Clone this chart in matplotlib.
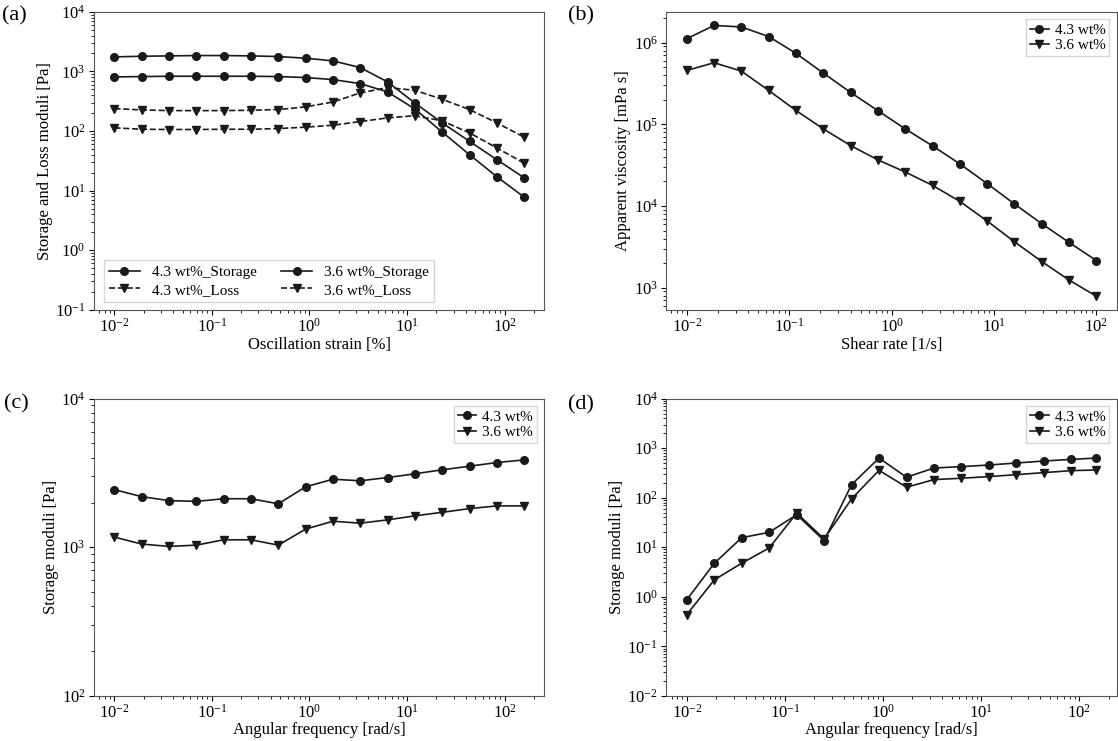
import matplotlib
matplotlib.use("Agg")
import matplotlib.pyplot as plt
import numpy as np

plt.rcParams['font.family'] = ['Liberation Serif', 'DejaVu Serif']
plt.rcParams['mathtext.fontset'] = 'stix'
plt.rcParams['font.size'] = 12
plt.rcParams['axes.labelpad'] = 1.5
plt.rcParams['xtick.major.pad'] = 2.0
plt.rcParams['ytick.major.pad'] = 2.5

# (a) amplitude sweep
strain = [0.01, 0.0191, 0.0363, 0.0692, 0.132, 0.251, 0.479, 0.912,
          1.74, 3.31, 6.31, 12.0, 22.9, 43.7, 83.2, 158]
g_store_43 = [1754, 1799, 1823, 1848, 1848, 1823, 1778, 1667,
              1504, 1161, 667, 296, 137, 67, 33, 16.5]
g_loss_43 = [238, 226, 220, 220, 220, 223, 229, 254,
             307, 436, 535, 483, 341, 229, 137, 79]
g_store_36 = [809, 820, 830, 830, 830, 830, 820, 789,
              730, 625, 453, 235, 96, 40, 17.1, 7.8]
g_loss_36 = [113, 107, 106, 106, 107, 107, 110, 116,
             125, 144, 166, 181, 148, 93, 52, 29]

# (b) flow curve
shear = np.logspace(-2, 2, 16)
visc_43 = [1.12e6, 1.63e6, 1.56e6, 1.19e6, 7.4e5, 4.25e5, 2.46e5, 1.47e5,
           8.8e4, 5.45e4, 3.28e4, 1.88e4, 1.06e4, 6.07e3, 3.58e3, 2.15e3]
visc_36 = [4.58e5, 5.69e5, 4.49e5, 2.60e5, 1.48e5, 8.8e4, 5.5e4, 3.67e4,
           2.61e4, 1.79e4, 1.14e4, 6.55e3, 3.65e3, 2.09e3, 1.24e3, 787]

# (c) / (d) frequency sweep
freq = [0.01, 0.0191, 0.0363, 0.0692, 0.132, 0.251, 0.479, 0.912,
        1.74, 3.31, 6.31, 12.0, 22.9, 43.7, 83.2, 158]
gc_43 = [2440, 2190, 2060, 2035, 2120, 2120, 1960, 2550,
         2870, 2800, 2945, 3120, 3320, 3510, 3715, 3870]
gc_36 = [1170, 1050, 1013, 1033, 1122, 1122, 1033, 1324,
         1496, 1452, 1528, 1626, 1718, 1820, 1897, 1897]
freq_d = [0.01, 0.0191, 0.0363, 0.0692, 0.132, 0.251, 0.479, 0.912,
          1.74, 3.31, 6.31, 12.0, 22.9, 43.7, 83.2, 150]
gd_43 = [0.873, 4.76, 15.6, 20.0, 45.3, 13.6, 184, 632,
         259, 398, 424, 457, 502, 551, 594, 632]
gd_36 = [0.436, 2.20, 4.76, 9.68, 48.9, 14.7, 94.9, 357,
         163, 232, 247, 267, 292, 321, 352, 363]

col = '#1a1a1a'
kw = dict(color=col, lw=1.2, ms=5.5)

fig = plt.figure(figsize=(11.18, 7.41), dpi=100)
ax_a = fig.add_axes([0.084, 0.582, 0.403, 0.402])
ax_b = fig.add_axes([0.596, 0.582, 0.403, 0.402])
ax_c = fig.add_axes([0.084, 0.061, 0.403, 0.401])
ax_d = fig.add_axes([0.596, 0.061, 0.403, 0.401])

ax_a.plot(strain, g_store_43, 'o-', label='4.3 wt%_Storage', **kw)
ax_a.plot(strain, g_loss_43, 'v--', label='4.3 wt%_Loss', **kw)
ax_a.plot(strain, g_store_36, 'o-', label='3.6 wt%_Storage', **kw)
ax_a.plot(strain, g_loss_36, 'v--', label='3.6 wt%_Loss', **kw)
ax_a.set_ylim(1e-1, 1e4)
ax_a.set_xlabel('Oscillation strain [%]')
ax_a.set_ylabel('Storage and Loss moduli [Pa]')
ax_a.legend(loc='lower left', ncol=2, fontsize=11, fancybox=False,
            edgecolor='#cccccc', columnspacing=1.6, labelspacing=0.25,
            borderpad=0.35, bbox_to_anchor=(0.005, 0.0))

ax_b.plot(shear, visc_43, 'o-', label='4.3 wt%', **kw)
ax_b.plot(shear, visc_36, 'v-', label='3.6 wt%', **kw)
ax_b.set_xlabel('Shear rate [1/s]')
ax_b.set_ylabel('Apparent viscosity [mPa s]')

ax_c.plot(freq, gc_43, 'o-', label='4.3 wt%', **kw)
ax_c.plot(freq, gc_36, 'v-', label='3.6 wt%', **kw)
ax_c.set_ylim(1e2, 1e4)
ax_c.set_xlabel('Angular frequency [rad/s]', labelpad=0.5)
ax_c.set_ylabel('Storage moduli [Pa]')

ax_d.plot(freq_d, gd_43, 'o-', label='4.3 wt%', **kw)
ax_d.plot(freq_d, gd_36, 'v-', label='3.6 wt%', **kw)
ax_d.set_ylim(1e-2, 1e4)
ax_d.set_xlabel('Angular frequency [rad/s]', labelpad=0.5)
ax_d.set_ylabel('Storage moduli [Pa]')

for ax in (ax_b, ax_c, ax_d):
    ax.legend(loc='upper right', fontsize=11, fancybox=False,
              edgecolor='#cccccc', handlelength=1.2, handletextpad=0.4,
              borderpad=0.25, labelspacing=0.1)

for ax in (ax_a, ax_b, ax_c, ax_d):
    ax.set_xscale('log')
    ax.set_yscale('log')
    for s in ax.spines.values():
        s.set_color('#555555')

fig.text(0.002, 0.978, '(a)', fontsize=16, va='center')
fig.text(0.508, 0.978, '(b)', fontsize=16, va='center')
fig.text(0.004, 0.455, '(c)', fontsize=16, va='center')
fig.text(0.508, 0.453, '(d)', fontsize=16, va='center')

fig.savefig('out.png', dpi=100)
